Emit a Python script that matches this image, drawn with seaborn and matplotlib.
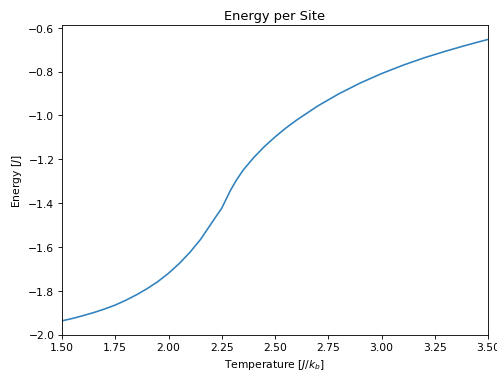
import numpy as np
import pandas as pd
import matplotlib
matplotlib.use('Agg')
import matplotlib.pyplot as plt
import seaborn as sns

# Energy per site of the 2D Ising model
temperature = [1.50, 1.55, 1.60, 1.65, 1.70, 1.75, 1.80, 1.85, 1.90, 1.95,
               2.00, 2.05, 2.10, 2.15, 2.20, 2.225, 2.25, 2.27, 2.29, 2.32,
               2.35, 2.40, 2.45, 2.50, 2.55, 2.60, 2.70, 2.80, 2.90, 3.00,
               3.10, 3.20, 3.30, 3.40, 3.50]
energy = [-1.937, -1.926, -1.913, -1.899, -1.883, -1.865, -1.843, -1.818, -1.790, -1.758,
          -1.720, -1.676, -1.625, -1.566, -1.494, -1.458, -1.423, -1.383, -1.343, -1.293,
          -1.250, -1.192, -1.142, -1.098, -1.058, -1.022, -0.957, -0.901, -0.852, -0.809,
          -0.771, -0.737, -0.707, -0.679, -0.653]

df = pd.DataFrame({'T': temperature, 'E': energy})

sns.set_style('ticks', {'axes.edgecolor': 'black', 'text.color': 'black',
                        'xtick.color': 'black', 'ytick.color': 'black',
                        'axes.labelcolor': 'black'})
plt.rcParams['font.family'] = ['DejaVu Sans']

fig = plt.figure(figsize=(6.4, 4.8), dpi=77.66)
ax = fig.add_axes([0.1247, 0.0995, 0.982 - 0.1247, 0.930 - 0.0995])

sns.lineplot(data=df, x='T', y='E', color='#3182bd', linewidth=1.5, ax=ax)
ax.set_xlim(1.5, 3.5)
ax.set_xticks([1.5, 1.75, 2.0, 2.25, 2.5, 2.75, 3.0, 3.25, 3.5])
ax.set_xticklabels(['1.50', '1.75', '2.00', '2.25', '2.50', '2.75', '3.00', '3.25', '3.50'])
ax.set_title('Energy per Site', fontsize=12)
ax.set_xlabel('Temperature [$J/k_b$]', fontsize=10)
ax.set_ylabel('Energy [$J$]', fontsize=10)
ax.tick_params(labelsize=10)

fig.savefig('out.png', dpi=77.66)
plt.close(fig)
